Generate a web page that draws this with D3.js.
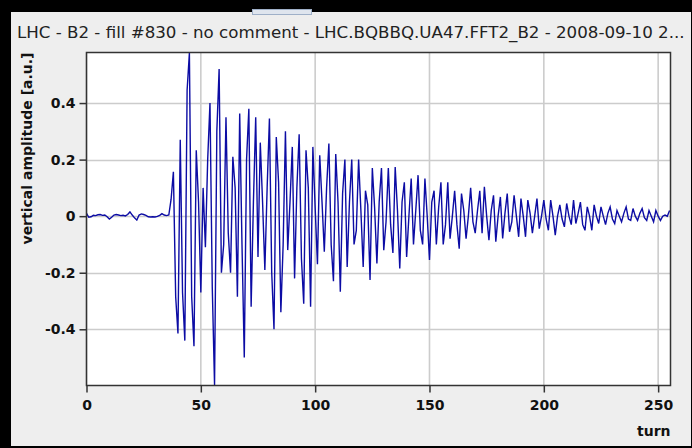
<!DOCTYPE html>
<html>
<head>
<meta charset="utf-8">
<script src="https://cdn.jsdelivr.net/npm/d3@7"></script>
<style>
  body { margin: 0; background: #000; }
  svg { display: block; }
  text { font-family: "DejaVu Sans", sans-serif; }
</style>
</head>
<body>
<div id="vis"></div>
<script>
// BBQ turn-by-turn data, vertical plane, beam 2
var titleText = "LHC - B2 - fill #830 - no comment - LHC.BQBBQ.UA47.FFT2_B2 - 2008-09-10 2...";
var xLabel = "turn";
var yLabel = "vertical amplitude [a.u.]";

var xTicks = [0, 50, 100, 150, 200, 250];
var yTicks = [-0.4, -0.2, 0, 0.2, 0.4];
var yTickLabels = ["-0.4", "-0.2", "0", "0.2", "0.4"];

var amplitude = [
  0.010, -0.004, -0.002, 0.003, 0.002, 0.005, 0.006, 0.003, 0.004, -0.002,
  -0.010, -0.004, 0.004, 0.006, 0.004, 0.002, 0.003, 0.001, 0.006, 0.015,
  0.004, -0.006, -0.014, 0.004, 0.008, 0.006, 0.003, -0.002, -0.003, -0.002,
  -0.003, -0.001, 0.003, 0.009, 0.004, 0.002, 0.004, 0.060, 0.157, -0.285,
  -0.415, 0.270, -0.270, -0.440, 0.445, 0.577, -0.285, -0.460, 0.233, 0.050,
  -0.270, 0.100, -0.110, 0.200, 0.400, -0.250, -0.597, 0.300, 0.520, -0.200,
  -0.100, 0.350, -0.060, -0.200, 0.210, 0.100, -0.285, 0.363, -0.100, -0.500,
  0.200, 0.380, -0.320, 0.050, 0.350, -0.144, 0.260, 0.050, -0.190, 0.100,
  0.345, -0.200, -0.400, 0.280, 0.120, -0.340, -0.100, 0.300, -0.120, 0.050,
  0.245, -0.220, 0.100, 0.290, -0.150, -0.310, 0.233, 0.100, -0.320, 0.245,
  0.030, -0.170, 0.215, 0.050, -0.126, 0.100, 0.257, -0.100, -0.230, 0.220,
  0.050, -0.267, 0.080, 0.200, -0.180, 0.050, 0.200, -0.100, -0.050, 0.200,
  0.020, -0.180, 0.090, 0.040, -0.226, 0.170, 0.030, -0.167, 0.050, 0.170,
  -0.120, -0.020, 0.170, -0.030, -0.130, 0.174, 0.020, -0.185, 0.050, 0.120,
  -0.144, 0.000, 0.133, -0.100, 0.020, 0.145, -0.050, -0.100, 0.133, 0.000,
  -0.155, 0.050, 0.090, -0.100, 0.030, 0.120, -0.100, -0.030, 0.120, -0.080,
  0.000, 0.090, -0.030, -0.115, 0.080, 0.020, -0.080, 0.000, 0.100, -0.020,
  -0.060, 0.020, 0.090, -0.060, 0.104, 0.000, -0.085, 0.020, 0.074, -0.090,
  0.000, 0.068, -0.079, 0.010, 0.080, -0.055, -0.020, 0.074, 0.000, -0.073,
  0.062, 0.000, -0.073, 0.057, 0.010, -0.060, 0.000, 0.062, -0.044, 0.000,
  0.057, -0.010, -0.050, 0.057, 0.000, -0.067, 0.000, 0.040, -0.010, -0.038,
  0.045, 0.000, -0.030, 0.057, -0.026, 0.010, 0.050, -0.030, -0.050, 0.033,
  0.000, -0.050, 0.040, 0.000, -0.026, 0.033, 0.000, -0.030, 0.010, 0.033,
  -0.010, -0.026, 0.020, 0.000, -0.020, 0.010, 0.033, -0.010, -0.015, 0.027,
  0.000, -0.015, 0.010, 0.027, -0.005, -0.015, 0.020, 0.000, -0.020, 0.020,
  0.000, -0.015, 0.000, 0.004, 0.000, 0.020
];
var turns = amplitude.map(function(d, i) { return i; });

var W = 692, H = 448;
var plot = {left: 86.5, top: 52.5, right: 670.5, bottom: 385.5};

var svg = d3.select("#vis").append("svg")
    .attr("width", W)
    .attr("height", H);

// window panel
svg.append("rect")
    .attr("x", 11).attr("y", 12)
    .attr("width", 680).attr("height", 434)
    .attr("fill", "#eeeeee");

svg.append("rect")
    .attr("x", 252.5).attr("y", 9.5)
    .attr("width", 59).attr("height", 5)
    .attr("fill", "#dfe5ee")
    .attr("stroke", "#9fb0c8");

var title = svg.append("text")
    .attr("x", 17)
    .attr("y", 38)
    .attr("font-size", 16)
    .attr("fill", "#222")
    .text(titleText);
// stretch to the panel width
var tw = title.node().getComputedTextLength();
title.attr("font-size", 16 * 668 / tw);

var x = d3.scaleLinear()
    .domain([0, 255.4])
    .range([plot.left, plot.right]);
var y = d3.scaleLinear()
    .domain(d3.extent(amplitude))
    .range([plot.bottom - 0.5, plot.top + 0.5]);

svg.append("rect")
    .attr("x", plot.left).attr("y", plot.top)
    .attr("width", plot.right - plot.left)
    .attr("height", plot.bottom - plot.top)
    .attr("fill", "#fff");

// grid
svg.append("g").selectAll("line")
    .data(xTicks)
  .enter().append("line")
    .attr("x1", function(d) { return x(d); })
    .attr("x2", function(d) { return x(d); })
    .attr("y1", plot.top).attr("y2", plot.bottom)
    .attr("stroke", "#cccccc")
    .attr("stroke-width", 1.6);

svg.append("g").selectAll("line")
    .data(yTicks)
  .enter().append("line")
    .attr("x1", plot.left).attr("x2", plot.right)
    .attr("y1", function(d) { return Math.round(y(d)) + 0.5; })
    .attr("y2", function(d) { return Math.round(y(d)) + 0.5; })
    .attr("stroke", "#cccccc")
    .attr("stroke-width", 1.6);

var line = d3.line()
    .x(function(d, i) { return x(turns[i]); })
    .y(function(d) { return y(d); });

svg.append("path")
    .datum(amplitude)
    .attr("d", line)
    .attr("fill", "none")
    .attr("stroke", "#0c0ca4")
    .attr("stroke-width", 1.4)
    .attr("stroke-linejoin", "miter");

// frame
svg.append("rect")
    .attr("x", plot.left).attr("y", plot.top)
    .attr("width", plot.right - plot.left)
    .attr("height", plot.bottom - plot.top)
    .attr("fill", "none")
    .attr("stroke", "#333")
    .attr("stroke-width", 1.5);

var xAxis = d3.axisBottom(x)
    .tickValues(xTicks)
    .tickSize(7)
    .tickPadding(8)
    .tickFormat(d3.format("d"));
var yAxis = d3.axisLeft(y)
    .tickValues(yTicks)
    .tickSize(7)
    .tickPadding(4)
    .tickFormat(function(d, i) { return yTickLabels[i]; });

var gx = svg.append("g")
    .attr("transform", "translate(0," + plot.bottom + ")")
    .call(xAxis);
var gy = svg.append("g")
    .attr("transform", "translate(" + plot.left + ",0)")
    .call(yAxis);

[gx, gy].forEach(function(g) {
  g.select(".domain").remove();
  g.selectAll("line").attr("stroke", "#333").attr("stroke-width", 1.5);
  g.selectAll("text")
      .attr("font-family", "DejaVu Sans, sans-serif")
      .attr("font-size", 14)
      .attr("font-weight", "bold")
      .attr("fill", "#111");
});

svg.append("text")
    .attr("x", plot.right)
    .attr("y", 436)
    .attr("text-anchor", "end")
    .attr("font-size", 14)
    .attr("font-weight", "bold")
    .attr("fill", "#111")
    .text(xLabel);

svg.append("text")
    .attr("transform", "translate(32," + (plot.top) + ") rotate(-90)")
    .attr("text-anchor", "end")
    .attr("font-size", 14)
    .attr("font-weight", "bold")
    .attr("fill", "#111")
    .text(yLabel);
</script>
</body>
</html>
